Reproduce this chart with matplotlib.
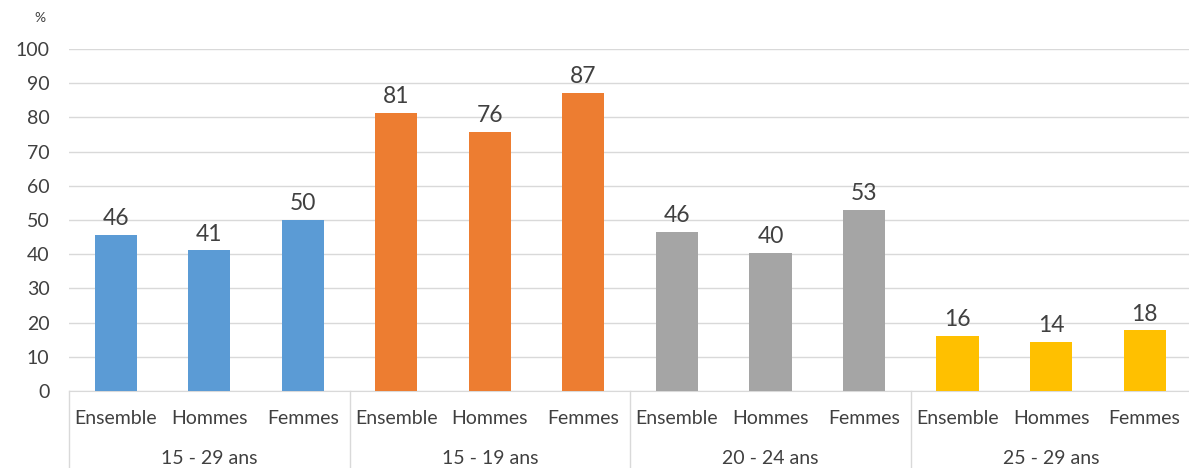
import numpy as np
import matplotlib.pyplot as plt

plt.rcParams['font.family'] = ['Lato', 'DejaVu Sans']

groups = ['15 - 29 ans', '15 - 19 ans', '20 - 24 ans', '25 - 29 ans']
sexes = ['Ensemble', 'Hommes', 'Femmes']
values = [
  [45.6, 41.2, 50.1],
  [81.3, 75.8, 87.2],
  [46.5, 40.4, 52.9],
  [16.1, 14.4, 17.8],
]
colors = ['#5B9BD5', '#ED7D31', '#A5A5A5', '#FFC000']
txt = '#404040'

fig = plt.figure(figsize=(11.89, 4.68), dpi=100)
ax = fig.add_axes([0.058, 0.1645, 0.944, 0.731])

x = 0
for g, vals in enumerate(values):
  for s, v in enumerate(vals):
    ax.bar(x, v, width=0.45, color=colors[g], zorder=3)
    ax.annotate('{:.0f}'.format(v), (x, v), xytext=(0, 4), textcoords='offset points',
                ha='center', va='bottom', fontsize=16.5, color=txt)
    ax.text(x, -0.08, sexes[s], transform=ax.get_xaxis_transform(),
            ha='center', va='center', fontsize=14, color=txt)
    x += 1
  ax.text(g * 3 + 1, -0.197, groups[g], transform=ax.get_xaxis_transform(),
          ha='center', va='center', fontsize=14, color=txt)

for b in range(5):
  ax.plot([b * 3 - 0.5, b * 3 - 0.5], [0, -0.23], transform=ax.get_xaxis_transform(),
          color='#d9d9d9', lw=1, clip_on=False)

ax.set_xlim(-0.5, 11.5)
ax.set_ylim(0, 100)
ax.set_yticks(np.arange(0, 101, 10))
ax.set_xticks([])
ax.tick_params(axis='y', length=0, labelsize=14, labelcolor=txt, pad=14)
ax.grid(axis='y', color='#d9d9d9', lw=1, zorder=0)
for sp in ['top', 'right', 'left']:
  ax.spines[sp].set_visible(False)
ax.spines['bottom'].set_color('#d9d9d9')
fig.text(40 / 1189, 1 - 18 / 468, '%', ha='center', va='center', fontsize=10, color=txt)

fig.savefig('out.png', dpi=100)
